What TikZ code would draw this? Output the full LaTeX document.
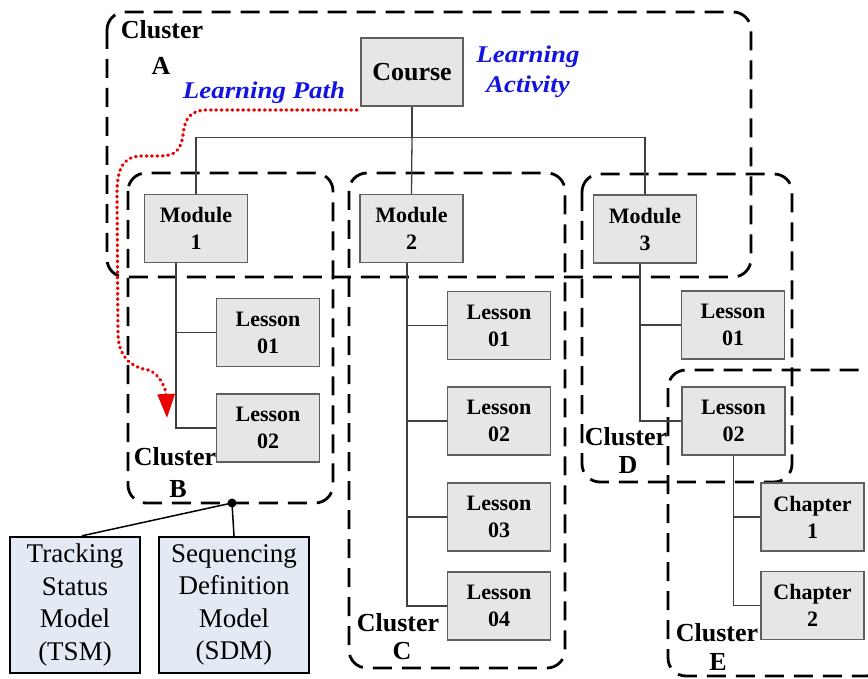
\documentclass[tikz,border=0pt]{standalone}
\usepackage{fontspec}
\setmainfont{Liberation Serif}
\usetikzlibrary{arrows.meta}
\definecolor{boxfill}{RGB}{230,230,230}
\definecolor{boxline}{RGB}{95,95,95}
\definecolor{modelfill}{RGB}{228,234,244}
\definecolor{pathred}{RGB}{235,0,0}
\definecolor{noteblue}{RGB}{20,20,225}
\newcommand{\wide}[1]{\scalebox{1.12}[1]{#1}}

\begin{document}
\begin{tikzpicture}[x=1pt,y=-1pt,
  unit/.style={draw=boxline, fill=boxfill, line width=1.4pt, inner sep=0pt,
    minimum width=103pt, minimum height=68pt, align=center,
    font=\fontsize{22}{27}\selectfont\bfseries},
  model/.style={draw=black, fill=modelfill, line width=2.4pt, inner sep=0pt,
    minimum height=136pt, align=center, font=\fontsize{27}{32.5}\selectfont},
  cluster/.style={draw=black, line width=2.8pt, dash pattern=on 19pt off 10pt,
    rounded corners=18pt},
  clabel/.style={font=\fontsize{26}{30}\selectfont\bfseries, inner sep=0pt},
  tree/.style={draw=black!75, line width=1.3pt},
  note/.style={text=noteblue, font=\fontsize{24}{30}\selectfont\bfseries\itshape,
    inner sep=0pt, align=center},
]
% canvas
\fill[white] (0,0) rectangle (868,679);
\clip (0,0) rectangle (868,679);

% dashed clusters
\draw[cluster] (107,12) rectangle (751,277);
\draw[cluster] (128,173) rectangle (333,503);
\draw[cluster] (349,173) rectangle (565,668);
\draw[cluster] (582,174) rectangle (792,482);
\draw[cluster] (668,370) rectangle (884,676);

% course and modules
\node[unit, minimum width=102pt, font=\fontsize{26}{30}\selectfont\bfseries]
  (course) at (412,72) {Course};
\node[unit] (m1) at (196,228.5) {Module\\1};
\node[unit] (m2) at (411.5,228.5) {Module\\2};
\node[unit] (m3) at (645,229) {Module\\3};

% lessons of module 1
\node[unit] (b1) at (268,332.5) {Lesson\\01};
\node[unit] (b2) at (268,428) {Lesson\\02};
% lessons of module 2
\node[unit] (c1) at (499,325.5) {Lesson\\01};
\node[unit] (c2) at (499,421) {Lesson\\02};
\node[unit] (c3) at (499,517) {Lesson\\03};
\node[unit] (c4) at (499,606) {Lesson\\04};
% lessons of module 3
\node[unit] (d1) at (733,325) {Lesson\\01};
\node[unit] (d2) at (733.5,421) {Lesson\\02};
% chapters of lesson 02
\node[unit] (e1) at (812.5,517) {Chapter\\1};
\node[unit] (e2) at (812.5,605.5) {Chapter\\2};

% tree connectors
\draw[tree] (course.south) -- ++(0,31) coordinate (hub);
\draw[tree] (m1.north) |- (hub) -| (m3.north);
\draw[tree] (hub) -- (m2.north);
\draw[tree] ([xshift=-20pt]m1.south) |- (b1.west);
\draw[tree] ([xshift=-20pt]m1.south) |- (b2.west);
\draw[tree] ([xshift=-4.5pt]m2.south) |- (c1.west);
\draw[tree] ([xshift=-4.5pt]m2.south) |- (c2.west);
\draw[tree] ([xshift=-4.5pt]m2.south) |- (c3.west);
\draw[tree] ([xshift=-4.5pt]m2.south) |- (c4.west);
\draw[tree] ([xshift=-5pt]m3.south) |- (d1.west);
\draw[tree] ([xshift=-5pt]m3.south) |- (d2.west);
\draw[tree] (d2.south) |- (e1.west);
\draw[tree] (d2.south) |- (e2.west);

% cluster captions
\node[clabel] (labA) at (162,30) {Cluster};
\node[clabel] (letA) at (161,66) {A};
\node[clabel] (labB) at (175,457) {Cluster};
\node[clabel] (letB) at (178,489) {B};
\node[clabel] (labC) at (398,623) {Cluster};
\node[clabel] (letC) at (402,651) {C};
\node[clabel] (labD) at (626,437) {Cluster};
\node[clabel] (letD) at (628,465) {D};
\node[clabel] (labE) at (717,633) {Cluster};
\node[clabel] (letE) at (718,662) {E};

% annotations
\node[note, anchor=base] (lpath) at (264,99) {\wide{Learning Path}};
\node[note] (lact) at (528,72) {\wide{Learning}\\\wide{Activity}};

% learning path
\coordinate (lpstart) at (357,110);
\coordinate (lpend) at (167,418);
\draw[pathred, line width=3.2pt, dash pattern=on 0.8pt off 4.6pt, line cap=round,
  -{Triangle[width=17pt,length=24pt,line cap=butt]}]
  (lpstart) -- (208,110) .. controls (190,110) and (185,118) .. (183,135)
  .. controls (181,150) and (175,156) .. (160,156) -- (140,156)
  .. controls (122,157) and (117,170) .. (117,195) -- (118,335)
  .. controls (119,360) and (135,368) .. (148,370)
  .. controls (160,373) and (166,390) .. (lpend);

% models attached to cluster B
\node[model, minimum width=130pt] (tsm) at (75,605) {Tracking\\Status\\Model\\(TSM)};
\node[model, minimum width=150pt] (sdm) at (234,605) {Sequencing\\Definition\\Model\\(SDM)};
\coordinate (tap) at (232,503);
\fill (tap) circle (4.5pt);
\draw[line width=1.5pt] (tap) -- ([xshift=7pt]tsm.north);
\draw[line width=1.5pt] (tap) -- (sdm.north);
\end{tikzpicture}
\end{document}
